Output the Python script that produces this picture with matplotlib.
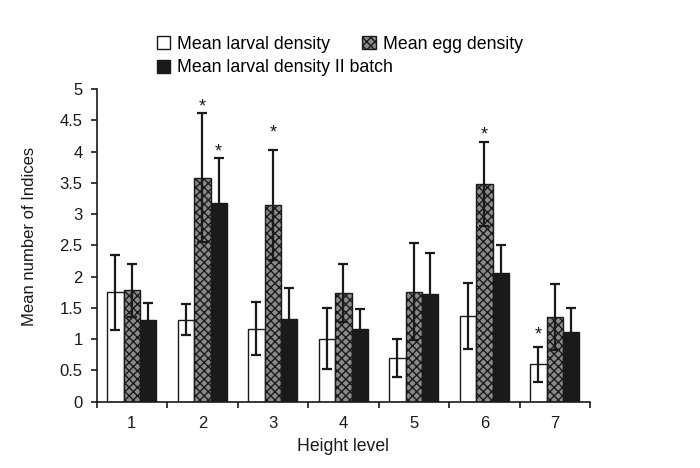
import matplotlib
matplotlib.use("Agg")
import matplotlib.pyplot as plt
import numpy as np

plt.rcParams['font.family'] = ['Liberation Sans', 'DejaVu Sans']
plt.rcParams['hatch.linewidth'] = 1.0

levels = ["1", "2", "3", "4", "5", "6", "7"]
larval = [1.75, 1.31, 1.17, 1.01, 0.70, 1.37, 0.60]
larval_err = [0.60, 0.25, 0.43, 0.49, 0.31, 0.53, 0.28]
egg = [1.78, 3.58, 3.14, 1.74, 1.76, 3.48, 1.36]
egg_err = [0.42, 1.03, 0.88, 0.46, 0.78, 0.67, 0.53]
batch2 = [1.31, 3.18, 1.33, 1.17, 1.72, 2.06, 1.12]
batch2_err = [0.27, 0.71, 0.49, 0.31, 0.66, 0.44, 0.38]

# significance stars: (group index, series index, star height)
stars = [(1, 1, 4.72), (1, 2, 4.00), (2, 1, 4.30), (5, 1, 4.27), (6, 0, 1.07)]

fig = plt.figure(figsize=(7.0, 4.68), dpi=100)
ax = fig.add_axes([0.138, 0.1417, 0.705, 0.668])

x = np.arange(1, len(levels) + 1)
w = 0.232
offs = [-w, 0, w]

ekw = dict(ecolor='#1a1a1a', elinewidth=1.6, capsize=3.5, capthick=1.6)
b1 = ax.bar(x + offs[0], larval, w, color='white', edgecolor='#1a1a1a', linewidth=1.0,
            yerr=larval_err, error_kw=ekw, label='Mean larval density', zorder=2)
b2 = ax.bar(x + offs[1], egg, w, color='#8a8a8a', edgecolor='#1a1a1a', linewidth=1.0,
            hatch='xxxx', yerr=egg_err, error_kw=ekw, label='Mean egg density', zorder=2)
b3 = ax.bar(x + offs[2], batch2, w, color='#1a1a1a', edgecolor='#1a1a1a', linewidth=1.0,
            yerr=batch2_err, error_kw=ekw, label='Mean larval density II batch', zorder=2)

for gi, si, sy in stars:
    ax.text(x[gi] + offs[si], sy, '*', ha='center', va='center', fontsize=13, color='#1a1a1a')

ax.set_xlim(0.5, len(levels) + 0.5)
ax.set_ylim(0, 5)
ax.set_yticks(np.arange(0, 5.01, 0.5))
ax.set_yticklabels(['0', '0.5', '1', '1.5', '2', '2.5', '3', '3.5', '4', '4.5', '5'])
ax.set_xticks(x)
ax.set_xticklabels(levels)
ax.set_xticks(np.arange(0.5, len(levels) + 0.6, 1), minor=True)
ax.tick_params(axis='x', which='major', length=0, labelsize=12, pad=10, colors='#1a1a1a')
ax.tick_params(axis='x', which='minor', length=4, width=1.2, direction='out', color='#1a1a1a')
ax.tick_params(axis='y', length=4, width=1.2, direction='out', labelsize=12, pad=6, colors='#1a1a1a')

for s in ['top', 'right']:
    ax.spines[s].set_visible(False)
for s in ['left', 'bottom']:
    ax.spines[s].set_linewidth(1.2)
    ax.spines[s].set_color('#1a1a1a')

ax.set_xlabel('Height level', fontsize=12.7, labelpad=5, color='#1a1a1a')
ax.set_ylabel('Mean number of Indices', fontsize=12, color='#1a1a1a')
ax.yaxis.set_label_coords(-0.12, 0.53)

lkw = dict(frameon=False, loc='upper left', fontsize=12.8, handlelength=0.75,
           handleheight=0.75, handletextpad=0.4, borderpad=0.0, borderaxespad=0.0)
leg1 = fig.legend([b1, b2], ['Mean larval density', 'Mean egg density'], ncol=2,
                  columnspacing=1.8, bbox_to_anchor=(0.224, 0.924), **lkw)
leg2 = fig.legend([b3], ['Mean larval density II batch'],
                  bbox_to_anchor=(0.224, 0.873), **lkw)

fig.savefig('out.png', dpi=100)
